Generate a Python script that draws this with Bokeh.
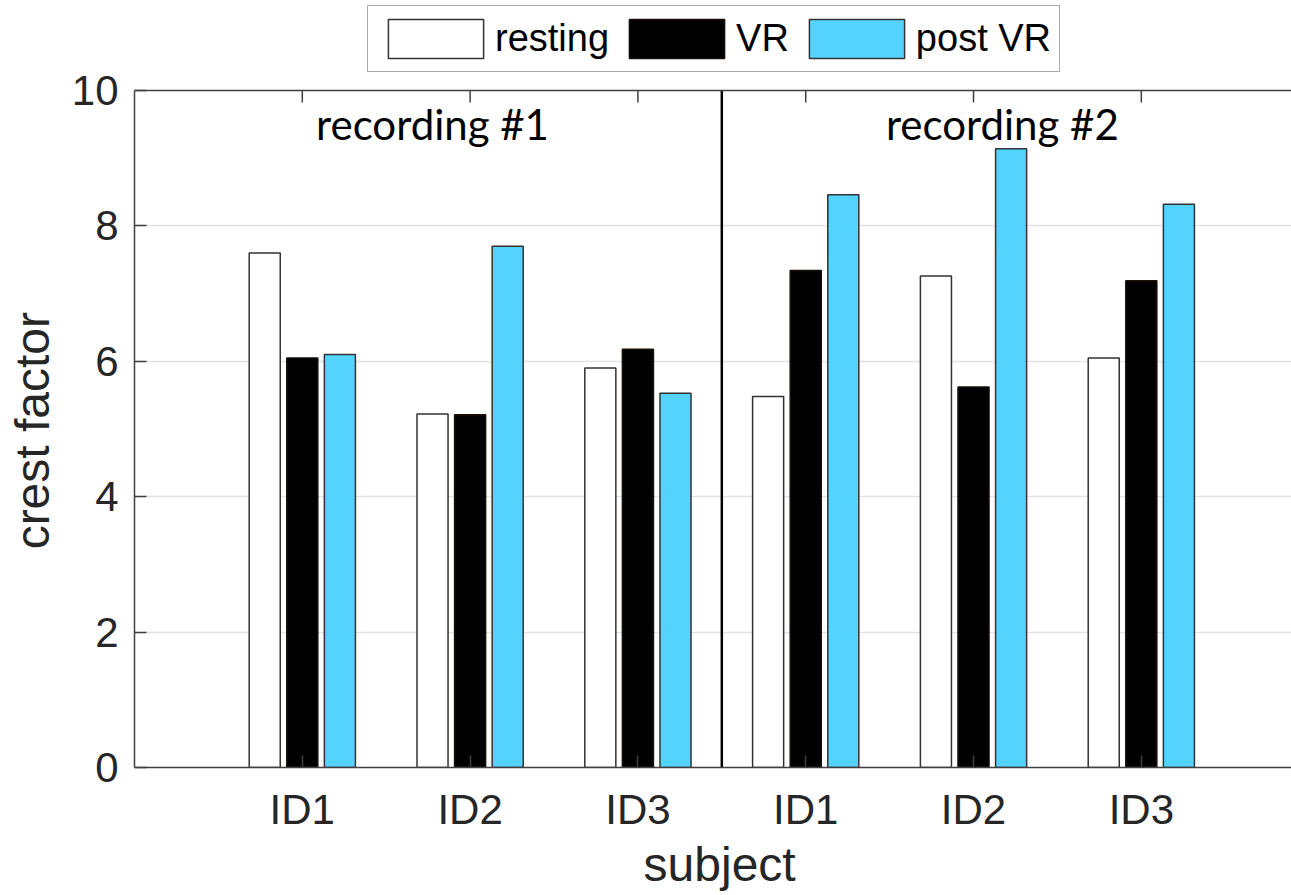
import math
from bokeh.plotting import figure
from bokeh.models import (ColumnDataSource, FixedTicker, Legend, LegendItem,
                          Span, Label, Range1d)
from bokeh.transform import dodge
from bokeh.embed import file_html
from bokeh.resources import INLINE

# ---- data ----
positions = [1, 2, 3, 4, 5, 6]
subjects = ["ID1", "ID2", "ID3", "ID1", "ID2", "ID3"]
resting = [7.60, 5.22, 5.90, 5.48, 7.26, 6.05]
vr = [6.05, 5.21, 6.18, 7.34, 5.62, 7.19]
post_vr = [6.10, 7.70, 5.53, 8.46, 9.14, 8.32]
series_names = ["resting", "VR", "post VR"]
recordings = ["recording #1", "recording #2"]
y_ticks = [0, 2, 4, 6, 8, 10]
grid_ticks = [2, 4, 6, 8]
separator_x = [3.5]

src = ColumnDataSource(dict(x=positions, resting=resting, vr=vr, post=post_vr))

FONT = "Liberation Sans"
AX = "#404040"
TXT = "#262626"
NB = "\u00a0"

y_max = y_ticks[-1]
# frame extends above the axes box so the legend fits inside it
p = figure(frame_width=1157, frame_height=767, x_range=Range1d(0, 6.895),
           y_range=Range1d(0, 11.33),
           output_backend="svg", toolbar_location=None,
           min_border_left=134, min_border_right=0, min_border_top=0, min_border_bottom=100)
p.outline_line_color = None
p.background_fill_color = "white"

# bars
bw = 0.185
off = 0.224
r1 = p.vbar(x=dodge("x", -off, range=p.x_range), top="resting", width=bw, source=src,
            fill_color="white", line_color="#333333", line_width=1.5)
r2 = p.vbar(x=dodge("x", 0, range=p.x_range), top="vr", width=bw, source=src,
            fill_color="black", line_color="#1a1008", line_width=1.5)
r3 = p.vbar(x=dodge("x", off, range=p.x_range), top="post", width=bw, source=src,
            fill_color="#55D3FF", line_color="#333333", line_width=1.5)

# axes
xa = p.xaxis[0]
xa.ticker = FixedTicker(ticks=positions)
xa.major_label_overrides = {pos: lab for pos, lab in zip(positions, subjects)}
xa.axis_label = NB + "subject"
ya = p.yaxis[0]
ya.ticker = FixedTicker(ticks=y_ticks)
ya.bounds = (y_ticks[0], y_max)
ya.axis_label = "crest factor" + NB * 7
for ax in (xa, ya):
    ax.major_tick_in = 12
    ax.major_tick_out = 0
    ax.minor_tick_line_color = None
    ax.axis_line_color = AX
    ax.axis_line_width = 1.5
    ax.major_tick_line_color = AX
    ax.major_tick_line_width = 1.5
    ax.major_label_text_font = FONT
    ax.major_label_text_font_size = "42px"
    ax.major_label_text_color = TXT
    ax.axis_label_text_font = FONT
    ax.axis_label_text_font_size = "48px"
    ax.axis_label_text_font_style = "normal"
    ax.axis_label_text_color = TXT
xa.major_label_standoff = 18
xa.axis_label_standoff = 2
ya.major_label_standoff = 16
ya.axis_label_standoff = 10

# top border of the axes box with inward ticks
p.add_layout(Span(location=y_max, dimension="width", line_color=AX, line_width=1.5))
p.ray(x=positions, y=[y_max] * len(positions), length=12, length_units="screen",
      angle=-math.pi / 2, line_color=AX, line_width=1.5)

# grid
p.xgrid.visible = False
p.ygrid.ticker = FixedTicker(ticks=grid_ticks)
p.ygrid.grid_line_color = "#e3e3e3"
p.ygrid.grid_line_width = 1.5

# separator between recordings
p.segment(x0=separator_x, y0=[y_ticks[0]], x1=separator_x, y1=[y_max],
          line_color="black", line_width=2.5)

# recording labels
for xx, txt in zip([1.082, 4.478], recordings):
    p.add_layout(Label(x=xx, y=9.51, text=txt, text_font="Lato", text_font_size="42px",
                       text_color="black", text_align="left", text_baseline="alphabetic"))

legend = Legend(items=[LegendItem(label=series_names[0], renderers=[r1]),
                       LegendItem(label=series_names[1], renderers=[r2]),
                       LegendItem(label=series_names[2], renderers=[r3])],
                orientation="horizontal", location=(233, 695),
                border_line_color="#555555", border_line_width=1.5,
                background_fill_color="white", background_fill_alpha=1.0,
                padding=8, margin=0, spacing=8, label_standoff=0,
                glyph_width=119, glyph_height=49,
                label_text_font=FONT, label_text_font_size="38px", label_text_color="black")
p.add_layout(legend, "center")

open("out.html", "w").write(file_html(p, INLINE))
